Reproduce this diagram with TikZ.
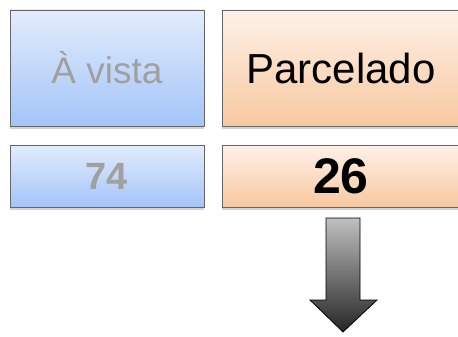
\documentclass[tikz,border=0pt]{standalone}
\usepackage{fontspec}
\setmainfont{Liberation Sans}
\usetikzlibrary{shadows}
\definecolor{bluetop}{HTML}{E2ECFC}
\definecolor{bluebot}{HTML}{A4C4F8}
\definecolor{orangetop}{HTML}{FEF1E8}
\definecolor{orangebot}{HTML}{F8C8A0}
\definecolor{textgray}{HTML}{A0A0A0}
\tikzset{
    box/.style={draw=black!60, line width=0.8pt,
        drop shadow={shadow xshift=0pt, shadow yshift=-3pt, opacity=.35}},
    bluebox/.style={box, top color=bluetop, bottom color=bluebot, text=textgray},
    orangebox/.style={box, top color=orangetop, bottom color=orangebot, text=black}
}
\begin{document}
\begin{tikzpicture}[x=1pt, y=-1pt]
    \useasboundingbox (0,0) rectangle (458,337);
    \node[bluebox, minimum width=194pt, minimum height=116pt,
        font=\fontsize{37}{44}\selectfont] (avista) at (107,68) {À vista};
    \node[orangebox, minimum width=238pt, minimum height=116pt,
        font=\fontsize{42}{50}\selectfont] (parcelado) at (341,68) {Parcelado};
    \node[bluebox, minimum width=194pt, minimum height=62pt,
        font=\bfseries\fontsize{38}{46}\selectfont] (avistanum) at (107,176) {74};
    \node[orangebox, minimum width=238pt, minimum height=62pt,
        font=\bfseries\fontsize{50}{60}\selectfont] (parceladonum) at (341,176) {26};
    % seta para baixo
    \draw[black, line width=0.8pt, top color=black!25, bottom color=black!85]
        (326,218) -- (360,218) -- (360,300) -- (377,300) -- (343,332)
        -- (310,300) -- (326,300) -- cycle;
\end{tikzpicture}
\end{document}
